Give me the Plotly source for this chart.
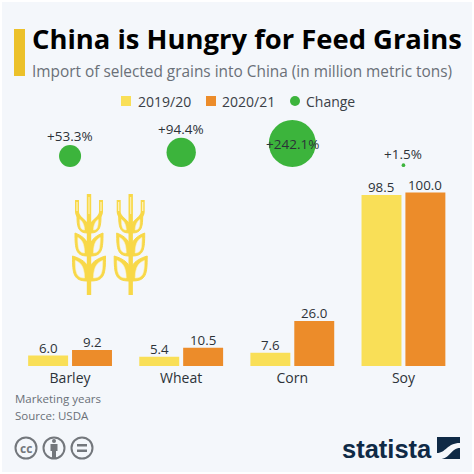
import plotly.graph_objects as go
import math

categories = ["Barley", "Wheat", "Corn", "Soy"]
values_2019 = [6.0, 5.4, 7.6, 98.5]
values_2020 = [9.2, 10.5, 26.0, 100.0]
change_pct = [53.3, 94.4, 242.1, 1.5]
change_labels = ["+53.3%", "+94.4%", "+242.1%", "+1.5%"]

YELLOW = "#f9df57"; ORANGE = "#ec8c2a"; GREEN = "#3cb43c"; BG = "#f4f7fb"; TXT = "#2c3238"; GREY = "#6a7078"
FONT = "Open Sans"
W = H = 474
PX_PER_UNIT = 1.735
BASE_PX = 366
K = 47 / math.sqrt(242.1)

sizes = [K * math.sqrt(c) for c in change_pct]
bottom = (BASE_PX - 167) / PX_PER_UNIT
bubble_y = [bottom + s / 2 / PX_PER_UNIT for s in sizes]

fig = go.Figure()
fig.add_bar(name="2019/20", x=categories, y=values_2019, marker=dict(color=YELLOW, line_width=0), hoverinfo="skip")
fig.add_bar(name="2020/21", x=categories, y=values_2020, marker=dict(color=ORANGE, line_width=0), hoverinfo="skip")
fig.add_scatter(name="Change", x=categories, y=bubble_y, mode="markers",
                marker=dict(color=GREEN, size=sizes, line_width=0, opacity=1), cliponaxis=False, hoverinfo="skip")
# invisible pixel axes for the decorations
fig.add_scatter(x=[0], y=[0], xaxis="x2", yaxis="y2", mode="markers", marker=dict(opacity=0), showlegend=False, hoverinfo="skip")

shapes = []
def add(path=None, fill=None, line=None, lw=0, kind="path", layer="above", **kw):
    d = dict(type=kind, xref="x2", yref="y2", layer=layer, fillcolor=fill or "rgba(0,0,0,0)",
             line=dict(color=line or "rgba(0,0,0,0)", width=lw))
    if path: d["path"] = path
    d.update(kw)
    shapes.append(d)

# panel background, referenced to the paper so it sits under every subplot
shapes.append(dict(type="rect", xref="paper", yref="paper", x0=2/W, x1=472/W, y0=2/H, y1=472/H,
                   fillcolor=BG, line=dict(width=0), layer="below"))
add(kind="rect", x0=14, x1=25, y0=29, y1=76, fill="#ecc12a")

def wheat(cx):
    col = "#f8d848"; pale = "#fdf3c4"
    def leaf(s, yb, yt, w):
        return (f"M{cx+s*1.5},{yb} C{cx+s*(w*0.95)},{yb} {cx+s*w},{yb-7} {cx+s*w},{yt} "
                f"C{cx+s*(w*0.6)},{yt+2} {cx+s*4},{yt+5} {cx+s*1.5},{yt+10} Z")
    def inner(s, yb, yt, w):
        return (f"M{cx+s*4.5},{yb-3} C{cx+s*(w*0.75)},{yb-3} {cx+s*(w-2.8)},{yb-8} {cx+s*(w-2.8)},{yt+4.5} "
                f"C{cx+s*(w*0.55)},{yt+6} {cx+s*4.5},{yt+10} {cx+s*4.5},{yb-3} Z")
    # prongs
    for s in (-1, 1):
        add(f"M{cx+s*12},{200} L{cx+s*12},{212} C{cx+s*12},{217} {cx+s*7},{219} {cx+s*3},{224}",
            line=col, lw=4)
        add(f"M{cx+s*12},{202} L{cx+s*12},{211}", line=pale, lw=1.2)
    # stem
    add(kind="rect", x0=cx-2.2, x1=cx+2.2, y0=194, y1=295, fill=col)
    add(kind="rect", x0=cx-0.5, x1=cx+0.5, y0=197, y1=214, fill=pale)
    for yb, yt, w in ((233, 215, 12), (256, 233, 14), (281, 256, 16.5)):
        for s in (-1, 1):
            add(leaf(s, yb, yt, w), fill=col, line=col, lw=1)
            add(inner(s, yb, yt, w), fill=BG, line=pale, lw=0.6)

wheat(89)
wheat(130.7)

# legend, laid out to the reference's tighter spacing
add(kind="rect", x0=121, x1=131, y0=96, y1=106, fill=YELLOW)
add(kind="rect", x0=206, x1=216, y0=96, y1=106, fill=ORANGE)
add(kind="circle", x0=290, x1=300, y0=96, y1=106, fill=GREEN)

# cc icons
ICON = "#73777c"
for cx in (26, 54, 82):
    add(kind="circle", x0=cx-10.5, x1=cx+10.5, y0=448-10.5, y1=448+10.5, line=ICON, lw=2)
add(kind="circle", x0=52, x1=56, y0=439, y1=443, fill=ICON)
add(kind="rect", x0=50.5, x1=57.5, y0=444, y1=451, fill=ICON)
add(kind="rect", x0=52, x1=56, y0=451, y1=458, fill=ICON)
add(kind="rect", x0=77, x1=87, y0=444, y1=446.5, fill=ICON)
add(kind="rect", x0=77, x1=87, y0=449.5, y1=452, fill=ICON)

# statista mark
NAVY = "#0f2a46"
add(kind="rect", x0=437, x1=460, y0=437, y1=459, fill=NAVY)
add("M437,459 L437,453 C446,453 447,443 460,443 L460,448 C451,448 450,459 440,459 Z", fill=BG)

def ann(x, y, text, size, color, bold=False, family=FONT, xanchor="left"):
    return dict(x=x, y=y, xref="x2", yref="y2", text=f"<b>{text}</b>" if bold else text, showarrow=False,
                xanchor=xanchor, yanchor="middle", font=dict(size=size, color=color, family=family), borderpad=0)

annotations = [
    ann(31, 38, "China is Hungry for Feed Grains", 27.4, "#000000", True),
    ann(31, 71, "Import of selected grains into China (in million metric tons)", 15.4, GREY),
    ann(137, 101, "2019/20", 14, "#3a4046"),
    ann(221, 101, "2020/21", 14, "#3a4046"),
    ann(305, 101, "Change", 14, "#3a4046"),
    ann(14, 398, "Marketing years", 11.5, GREY),
    ann(14, 415, "Source: USDA", 11.5, GREY),
    ann(26, 448, "cc", 12, ICON, True, xanchor="center"),
    ann(341, 449, "statista", 25.5, NAVY, True, family="Liberation Sans"),
]

# value labels sit tighter to the bars than the bar trace's own outside text
for vals, dx in ((values_2019, -22), (values_2020, 22)):
    for c, v in zip(categories, vals):
        annotations.append(dict(x=c, y=v, xref="x", yref="y", text=f"{v:.1f}", showarrow=False, xshift=dx,
                                yanchor="bottom", yshift=-2, borderpad=0,
                                font=dict(size=13.3, color=TXT, family=FONT)))
# bubble labels: above the bubble, except the biggest, which holds its label
for c, lab, by, s, pct in zip(categories, change_labels, bubble_y, sizes, change_pct):
    inside = pct == max(change_pct)
    annotations.append(dict(x=c, y=by if inside else by + s / 2 / PX_PER_UNIT, xref="x", yref="y", text=lab,
                            showarrow=False, yanchor="middle" if inside else "bottom",
                            yshift=0 if inside else -1, borderpad=0,
                            font=dict(size=13.5, color=TXT, family=FONT)))

fig.update_layout(
    width=W, height=H, autosize=False,
    margin=dict(l=0, r=0, t=0, b=0, pad=0),
    paper_bgcolor="white", plot_bgcolor="rgba(0,0,0,0)",
    barmode="group", bargap=0.21, bargroupgap=0.09,
    font=dict(family=FONT, color=TXT),
    showlegend=False,
    xaxis=dict(domain=[14.5/W, 459/W], showgrid=False, zeroline=False, showline=False, ticks="",
               tickfont=dict(size=14, color=TXT, family=FONT), ticklabelstandoff=2, fixedrange=True,
               categoryorder="array", categoryarray=categories),
    yaxis=dict(domain=[(H-BASE_PX)/H, 1], range=[0, BASE_PX/PX_PER_UNIT], visible=False, fixedrange=True),
    xaxis2=dict(domain=[0, 1], range=[0, W], visible=False, anchor="y2", fixedrange=True),
    yaxis2=dict(domain=[0, 1], range=[H, 0], visible=False, anchor="x2", fixedrange=True),
    shapes=shapes, annotations=annotations,
)
fig.write_html("out.html", config=dict(displayModeBar=False), post_script="document.body.style.margin='0';")
